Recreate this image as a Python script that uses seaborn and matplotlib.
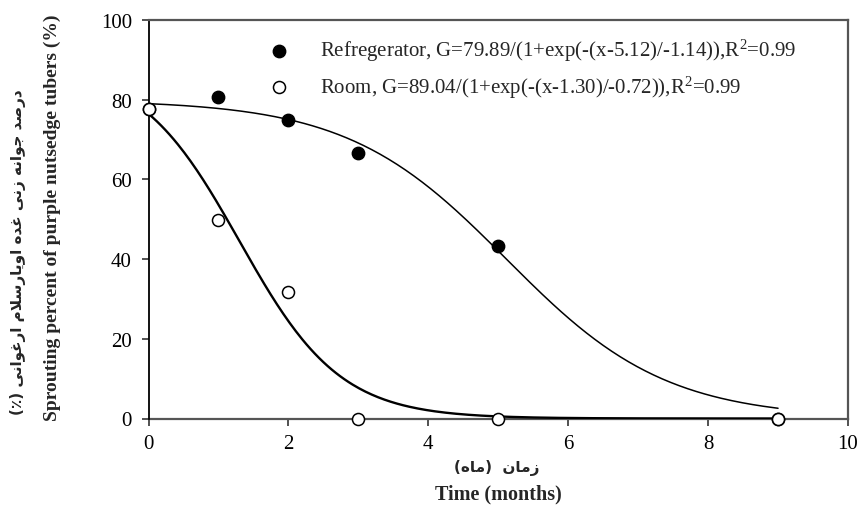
import numpy as np
import pandas as pd
import matplotlib
matplotlib.use("Agg")
import matplotlib.pyplot as plt
import seaborn as sns

# ---------------- data ----------------
months = [0, 1, 2, 3, 5, 9]
fridge_pct = [77.7, 80.8, 75.0, 66.6, 43.3, 0.0]
room_pct = [77.7, 49.7, 31.8, 0.0, 0.0, 0.0]
# fitted sigmoid parameters shown in the legend: a, x0, b  ->  G = a/(1+exp(-(x-x0)/b))
fridge_fit = [79.89, 5.12, -1.14]
room_fit = [89.04, 1.30, -0.72]
fit_range = [0, 9]
x_ticks = [0, 2, 4, 6, 8, 10]
y_ticks = [0, 20, 40, 60, 80, 100]
fridge_label = r"Refregerator, G=79.89/(1+exp(-(x-5.12)/-1.14)),R$^{2}$=0.99"
room_label = r"Room, G=89.04/(1+exp(-(x-1.30)/-0.72)),R$^{2}$=0.99"
xlabel_en = "Time (months)"
xlabel_fa = "زمان  (ماه)"
ylabel_en = "Sprouting percent of purple nutsedge tubers (%)"
ylabel_fa = "درصد جوانه زنی غده اویارسلام ارغوانی (٪)"

# ------------- simple Persian shaping (presentation forms, visual order) -------------
FORMS = {
    'ا': ('\uFE8D', '\uFE8E', None, None),
    'د': ('\uFEA9', '\uFEAA', None, None),
    'ر': ('\uFEAD', '\uFEAE', None, None),
    'ز': ('\uFEAF', '\uFEB0', None, None),
    'و': ('\uFEED', '\uFEEE', None, None),
    'ج': ('\uFE9D', '\uFE9E', '\uFE9F', '\uFEA0'),
    'س': ('\uFEB1', '\uFEB2', '\uFEB3', '\uFEB4'),
    'ص': ('\uFEB9', '\uFEBA', '\uFEBB', '\uFEBC'),
    'غ': ('\uFECD', '\uFECE', '\uFECF', '\uFED0'),
    'ل': ('\uFEDD', '\uFEDE', '\uFEDF', '\uFEE0'),
    'م': ('\uFEE1', '\uFEE2', '\uFEE3', '\uFEE4'),
    'ن': ('\uFEE5', '\uFEE6', '\uFEE7', '\uFEE8'),
    'ه': ('\uFEE9', '\uFEEA', '\uFEEB', '\uFEEC'),
    'ی': ('\uFBFC', '\uFBFD', '\uFBFE', '\uFBFF'),
}


def shape_fa(s):
    out = []
    i, n = 0, len(s)
    while i < n:
        c = s[i]
        if c not in FORMS:
            out.append(c)
            i += 1
            continue
        prev = s[i - 1] if i > 0 else ''
        joins_prev = prev in FORMS and FORMS[prev][2] is not None
        if c == 'ل' and i + 1 < n and s[i + 1] == 'ا':
            out.append('\uFEFC' if joins_prev else '\uFEFB')
            i += 2
            continue
        nxt = s[i + 1] if i + 1 < n else ''
        f = FORMS[c]
        joins_next = f[2] is not None and nxt in FORMS
        if joins_prev and joins_next:
            g = f[3]
        elif joins_prev:
            g = f[1]
        elif joins_next:
            g = f[2]
        else:
            g = f[0]
        out.append(g)
        i += 1
    mirror = {'(': ')', ')': '('}
    return ''.join(mirror.get(ch, ch) for ch in reversed(out))


# ---------------- style ----------------
sns.set_style("ticks")
plt.rcParams['font.family'] = ['Liberation Serif', 'DejaVu Sans']
plt.rcParams['mathtext.fontset'] = 'custom'
plt.rcParams['mathtext.rm'] = 'Liberation Serif'
plt.rcParams['mathtext.it'] = 'Liberation Serif:italic'
plt.rcParams['mathtext.bf'] = 'Liberation Serif:bold'

W, H = 861, 506
fig = plt.figure(figsize=(W / 100, H / 100), dpi=100)
ax = fig.add_axes([148.5 / W, 1 - 419.5 / H, (848 - 148.5) / W, (419.5 - 21) / H])

# fitted curves
xx = np.linspace(fit_range[0], fit_range[1], 300)
fr = pd.DataFrame({'x': xx, 'y': fridge_fit[0] / (1 + np.exp(-(xx - fridge_fit[1]) / fridge_fit[2]))})
ro = pd.DataFrame({'x': xx, 'y': room_fit[0] / (1 + np.exp(-(xx - room_fit[1]) / room_fit[2]))})
sns.lineplot(data=fr, x='x', y='y', ax=ax, color='black', lw=1.1, legend=False, zorder=2)
sns.lineplot(data=ro, x='x', y='y', ax=ax, color='black', lw=1.7, legend=False, zorder=2)

# points
pts = pd.DataFrame({'m': months, 'fridge': fridge_pct, 'room': room_pct})
sns.scatterplot(data=pts, x='m', y='fridge', ax=ax, color='black', edgecolor='black',
                s=80, linewidth=1, label=fridge_label, zorder=4, clip_on=False)
sns.scatterplot(data=pts, x='m', y='room', ax=ax, color='white', edgecolor='black',
                s=75, linewidth=1.1, label=room_label, zorder=5, clip_on=False)

ax.set_xlim(0, 10)
ax.set_ylim(0, 100)
ax.set_xticks(x_ticks)
ax.set_yticks(y_ticks)
ax.set_xlabel('')
ax.set_ylabel('')
ax.tick_params(axis='both', direction='out', length=5, width=1.2, labelsize=15,
               colors='#333333', labelcolor='black')
ax.tick_params(axis='x', pad=6)
ax.tick_params(axis='y', pad=7)
for side in ['top', 'right', 'bottom']:
    ax.spines[side].set_visible(True)
    ax.spines[side].set_color('#555555')
    ax.spines[side].set_linewidth(1.6)
ax.spines['left'].set_color('black')
ax.spines['left'].set_linewidth(1.3)
ax.spines['bottom'].set_zorder(1)

leg = ax.legend(loc='upper left', bbox_to_anchor=(268.5 / W, 1 - 38 / H),
                bbox_transform=fig.transFigure, frameon=False, fontsize=15,
                handlelength=1.0, handletextpad=1.47, labelspacing=0.5,
                borderpad=0, borderaxespad=0)

# axis labels
fig.text(498 / W, 1 - 494 / H, xlabel_en, ha='center', va='center', fontsize=14.5,
         fontweight='bold')
fig.text(497 / W, 1 - 468 / H, shape_fa(xlabel_fa), ha='center', va='center',
         fontsize=11, fontweight='bold', family=['DejaVu Sans'])
fig.text(52 / W, 1 - 218 / H, ylabel_en, ha='center', va='center', rotation=90,
         fontsize=14, fontweight='bold')
fig.text(18 / W, 1 - 252 / H, shape_fa(ylabel_fa), ha='center', va='center',
         rotation=90, fontsize=11, fontweight='bold', family=['DejaVu Sans'])

fig.savefig('out.png', dpi=100)
